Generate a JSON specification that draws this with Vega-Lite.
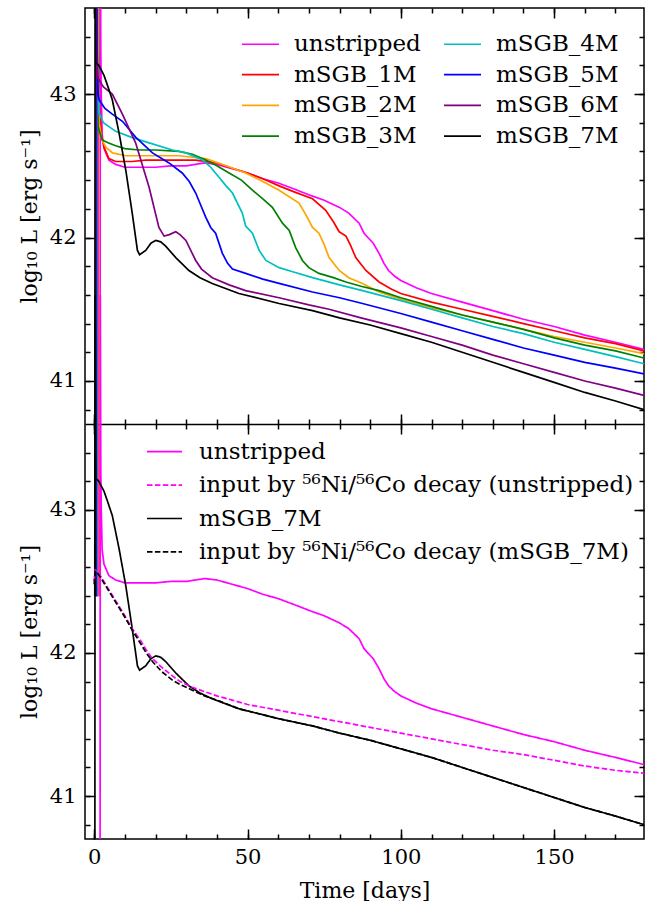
{
  "$schema": "https://vega.github.io/schema/vega-lite/v6.json",
  "padding": {"left": 18, "top": 7, "right": 2, "bottom": 0},
  "width": 559,
  "height": 831,
  "config": {
    "font": "DejaVu Serif",
    "view": {"stroke": "black", "strokeWidth": 1.5},
    "axis": {"domain": false, "grid": false, "tickColor": "black", "tickWidth": 1.5, "labelFontSize": 21, "titleFontSize": 22, "titleFontWeight": "normal", "labelColor": "black", "titleColor": "black", "labelFlush": false, "labelOverlap": false},
    "legend": {"labelFontSize": 23, "labelColor": "black", "labelLimit": 0, "padding": 0}
  },
  "resolve": {"scale": {"y": "independent", "color": "independent", "strokeDash": "independent"}, "axis": {"x": "independent", "y": "independent"}},
  "datasets": {
    "lc": [
      {"model":"unstripped","t":1.9,"L":39.5},{"model":"unstripped","t":2.0,"L":44.5},{"model":"unstripped","t":2.15,"L":43.3},{"model":"unstripped","t":2.3,"L":43.0},{"model":"unstripped","t":2.6,"L":42.72},{"model":"unstripped","t":3.2,"L":42.62},{"model":"unstripped","t":4.8,"L":42.54},{"model":"unstripped","t":7,"L":42.51},{"model":"unstripped","t":10,"L":42.49},{"model":"unstripped","t":15,"L":42.49},{"model":"unstripped","t":20,"L":42.49},{"model":"unstripped","t":25,"L":42.5},{"model":"unstripped","t":30,"L":42.5},{"model":"unstripped","t":33,"L":42.51},{"model":"unstripped","t":36,"L":42.52},{"model":"unstripped","t":40,"L":42.51},{"model":"unstripped","t":45,"L":42.48},{"model":"unstripped","t":50,"L":42.45},{"model":"unstripped","t":55,"L":42.41},{"model":"unstripped","t":60,"L":42.38},{"model":"unstripped","t":65,"L":42.34},{"model":"unstripped","t":71,"L":42.29},{"model":"unstripped","t":75,"L":42.26},{"model":"unstripped","t":80,"L":42.21},{"model":"unstripped","t":83,"L":42.17},{"model":"unstripped","t":86.4,"L":42.1},{"model":"unstripped","t":88,"L":42.03},{"model":"unstripped","t":89.7,"L":41.99},{"model":"unstripped","t":91,"L":41.96},{"model":"unstripped","t":92.9,"L":41.89},{"model":"unstripped","t":94.5,"L":41.82},{"model":"unstripped","t":96,"L":41.77},{"model":"unstripped","t":98,"L":41.73},{"model":"unstripped","t":100,"L":41.7},{"model":"unstripped","t":105,"L":41.65},{"model":"unstripped","t":110,"L":41.61},{"model":"unstripped","t":120,"L":41.55},{"model":"unstripped","t":130,"L":41.49},{"model":"unstripped","t":140,"L":41.43},{"model":"unstripped","t":150,"L":41.38},{"model":"unstripped","t":160,"L":41.32},{"model":"unstripped","t":170,"L":41.27},{"model":"unstripped","t":179.3,"L":41.22},
      {"model":"mSGB_1M","t":1.2,"L":39.5},{"model":"mSGB_1M","t":1.3,"L":44.5},{"model":"mSGB_1M","t":1.5,"L":43.2},{"model":"mSGB_1M","t":1.8,"L":42.85},{"model":"mSGB_1M","t":2.5,"L":42.7},{"model":"mSGB_1M","t":3.2,"L":42.63},{"model":"mSGB_1M","t":4.8,"L":42.55},{"model":"mSGB_1M","t":7,"L":42.53},{"model":"mSGB_1M","t":12.4,"L":42.53},{"model":"mSGB_1M","t":16.8,"L":42.54},{"model":"mSGB_1M","t":25,"L":42.54},{"model":"mSGB_1M","t":33,"L":42.54},{"model":"mSGB_1M","t":40,"L":42.52},{"model":"mSGB_1M","t":44,"L":42.49},{"model":"mSGB_1M","t":50,"L":42.45},{"model":"mSGB_1M","t":55,"L":42.41},{"model":"mSGB_1M","t":60.3,"L":42.36},{"model":"mSGB_1M","t":65,"L":42.32},{"model":"mSGB_1M","t":71.2,"L":42.27},{"model":"mSGB_1M","t":75.5,"L":42.19},{"model":"mSGB_1M","t":78,"L":42.11},{"model":"mSGB_1M","t":79.9,"L":42.04},{"model":"mSGB_1M","t":82.1,"L":42.01},{"model":"mSGB_1M","t":83.5,"L":41.95},{"model":"mSGB_1M","t":85.3,"L":41.86},{"model":"mSGB_1M","t":88.6,"L":41.77},{"model":"mSGB_1M","t":92.9,"L":41.69},{"model":"mSGB_1M","t":97,"L":41.64},{"model":"mSGB_1M","t":100,"L":41.61},{"model":"mSGB_1M","t":110,"L":41.55},{"model":"mSGB_1M","t":120,"L":41.5},{"model":"mSGB_1M","t":130,"L":41.45},{"model":"mSGB_1M","t":140,"L":41.4},{"model":"mSGB_1M","t":150,"L":41.35},{"model":"mSGB_1M","t":160,"L":41.3},{"model":"mSGB_1M","t":170,"L":41.26},{"model":"mSGB_1M","t":179.3,"L":41.21},
      {"model":"mSGB_2M","t":1.0,"L":39.5},{"model":"mSGB_2M","t":1.1,"L":44.5},{"model":"mSGB_2M","t":1.3,"L":43.2},{"model":"mSGB_2M","t":1.6,"L":42.8},{"model":"mSGB_2M","t":2.5,"L":42.68},{"model":"mSGB_2M","t":3.8,"L":42.63},{"model":"mSGB_2M","t":6,"L":42.59},{"model":"mSGB_2M","t":10.3,"L":42.57},{"model":"mSGB_2M","t":17.9,"L":42.57},{"model":"mSGB_2M","t":27.7,"L":42.57},{"model":"mSGB_2M","t":36.4,"L":42.55},{"model":"mSGB_2M","t":43,"L":42.5},{"model":"mSGB_2M","t":49.4,"L":42.45},{"model":"mSGB_2M","t":55,"L":42.39},{"model":"mSGB_2M","t":60.3,"L":42.33},{"model":"mSGB_2M","t":66.8,"L":42.24},{"model":"mSGB_2M","t":69,"L":42.16},{"model":"mSGB_2M","t":71.2,"L":42.07},{"model":"mSGB_2M","t":73.3,"L":42.03},{"model":"mSGB_2M","t":75,"L":41.95},{"model":"mSGB_2M","t":76.6,"L":41.86},{"model":"mSGB_2M","t":79.9,"L":41.77},{"model":"mSGB_2M","t":83,"L":41.72},{"model":"mSGB_2M","t":87.5,"L":41.68},{"model":"mSGB_2M","t":92.9,"L":41.62},{"model":"mSGB_2M","t":100,"L":41.57},{"model":"mSGB_2M","t":110,"L":41.51},{"model":"mSGB_2M","t":120,"L":41.46},{"model":"mSGB_2M","t":130,"L":41.41},{"model":"mSGB_2M","t":140,"L":41.36},{"model":"mSGB_2M","t":150,"L":41.31},{"model":"mSGB_2M","t":160,"L":41.27},{"model":"mSGB_2M","t":170,"L":41.23},{"model":"mSGB_2M","t":179.3,"L":41.19},
      {"model":"mSGB_3M","t":0.8,"L":39.5},{"model":"mSGB_3M","t":0.9,"L":44.5},{"model":"mSGB_3M","t":1.0,"L":43.0},{"model":"mSGB_3M","t":1.3,"L":42.77},{"model":"mSGB_3M","t":2.6,"L":42.68},{"model":"mSGB_3M","t":4.5,"L":42.66},{"model":"mSGB_3M","t":7,"L":42.64},{"model":"mSGB_3M","t":10,"L":42.62},{"model":"mSGB_3M","t":14.6,"L":42.61},{"model":"mSGB_3M","t":20,"L":42.61},{"model":"mSGB_3M","t":27.7,"L":42.6},{"model":"mSGB_3M","t":32,"L":42.58},{"model":"mSGB_3M","t":36.4,"L":42.54},{"model":"mSGB_3M","t":40,"L":42.5},{"model":"mSGB_3M","t":44,"L":42.45},{"model":"mSGB_3M","t":48,"L":42.4},{"model":"mSGB_3M","t":51.6,"L":42.33},{"model":"mSGB_3M","t":55,"L":42.27},{"model":"mSGB_3M","t":58.1,"L":42.21},{"model":"mSGB_3M","t":61.4,"L":42.1},{"model":"mSGB_3M","t":63.6,"L":42.05},{"model":"mSGB_3M","t":65.7,"L":41.93},{"model":"mSGB_3M","t":67.9,"L":41.84},{"model":"mSGB_3M","t":70,"L":41.79},{"model":"mSGB_3M","t":73.3,"L":41.75},{"model":"mSGB_3M","t":78,"L":41.72},{"model":"mSGB_3M","t":82.1,"L":41.69},{"model":"mSGB_3M","t":87,"L":41.66},{"model":"mSGB_3M","t":92.9,"L":41.63},{"model":"mSGB_3M","t":100,"L":41.58},{"model":"mSGB_3M","t":110,"L":41.52},{"model":"mSGB_3M","t":120,"L":41.46},{"model":"mSGB_3M","t":130,"L":41.41},{"model":"mSGB_3M","t":140,"L":41.36},{"model":"mSGB_3M","t":150,"L":41.3},{"model":"mSGB_3M","t":160,"L":41.25},{"model":"mSGB_3M","t":170,"L":41.21},{"model":"mSGB_3M","t":179.3,"L":41.16},
      {"model":"mSGB_4M","t":0.9,"L":39.5},{"model":"mSGB_4M","t":1.0,"L":44.5},{"model":"mSGB_4M","t":1.15,"L":43.2},{"model":"mSGB_4M","t":1.6,"L":42.87},{"model":"mSGB_4M","t":3,"L":42.8},{"model":"mSGB_4M","t":7,"L":42.74},{"model":"mSGB_4M","t":12,"L":42.7},{"model":"mSGB_4M","t":17.9,"L":42.66},{"model":"mSGB_4M","t":25.5,"L":42.61},{"model":"mSGB_4M","t":30,"L":42.59},{"model":"mSGB_4M","t":35.3,"L":42.54},{"model":"mSGB_4M","t":38,"L":42.49},{"model":"mSGB_4M","t":40.7,"L":42.42},{"model":"mSGB_4M","t":43,"L":42.36},{"model":"mSGB_4M","t":45.1,"L":42.31},{"model":"mSGB_4M","t":48.3,"L":42.17},{"model":"mSGB_4M","t":49.4,"L":42.08},{"model":"mSGB_4M","t":51.6,"L":42.03},{"model":"mSGB_4M","t":53.8,"L":41.91},{"model":"mSGB_4M","t":56,"L":41.84},{"model":"mSGB_4M","t":60.3,"L":41.79},{"model":"mSGB_4M","t":65,"L":41.76},{"model":"mSGB_4M","t":71.2,"L":41.72},{"model":"mSGB_4M","t":80,"L":41.67},{"model":"mSGB_4M","t":87.5,"L":41.63},{"model":"mSGB_4M","t":100,"L":41.56},{"model":"mSGB_4M","t":110,"L":41.5},{"model":"mSGB_4M","t":120,"L":41.44},{"model":"mSGB_4M","t":130,"L":41.38},{"model":"mSGB_4M","t":140,"L":41.33},{"model":"mSGB_4M","t":150,"L":41.27},{"model":"mSGB_4M","t":160,"L":41.22},{"model":"mSGB_4M","t":170,"L":41.17},{"model":"mSGB_4M","t":179.3,"L":41.12},
      {"model":"mSGB_5M","t":0.7,"L":39.5},{"model":"mSGB_5M","t":0.8,"L":44.5},{"model":"mSGB_5M","t":0.95,"L":43.3},{"model":"mSGB_5M","t":1.3,"L":43.0},{"model":"mSGB_5M","t":1.6,"L":42.96},{"model":"mSGB_5M","t":3.5,"L":42.9},{"model":"mSGB_5M","t":5.9,"L":42.86},{"model":"mSGB_5M","t":9.2,"L":42.81},{"model":"mSGB_5M","t":13.5,"L":42.7},{"model":"mSGB_5M","t":19,"L":42.59},{"model":"mSGB_5M","t":24.4,"L":42.52},{"model":"mSGB_5M","t":28.7,"L":42.45},{"model":"mSGB_5M","t":31,"L":42.39},{"model":"mSGB_5M","t":33.1,"L":42.31},{"model":"mSGB_5M","t":36.4,"L":42.14},{"model":"mSGB_5M","t":38,"L":42.07},{"model":"mSGB_5M","t":39.6,"L":42.03},{"model":"mSGB_5M","t":41.8,"L":41.89},{"model":"mSGB_5M","t":43.5,"L":41.82},{"model":"mSGB_5M","t":45.1,"L":41.78},{"model":"mSGB_5M","t":49.4,"L":41.75},{"model":"mSGB_5M","t":55,"L":41.71},{"model":"mSGB_5M","t":60.3,"L":41.68},{"model":"mSGB_5M","t":71.2,"L":41.62},{"model":"mSGB_5M","t":80,"L":41.58},{"model":"mSGB_5M","t":87.5,"L":41.54},{"model":"mSGB_5M","t":100,"L":41.47},{"model":"mSGB_5M","t":110,"L":41.41},{"model":"mSGB_5M","t":120,"L":41.35},{"model":"mSGB_5M","t":130,"L":41.29},{"model":"mSGB_5M","t":140,"L":41.23},{"model":"mSGB_5M","t":150,"L":41.18},{"model":"mSGB_5M","t":160,"L":41.13},{"model":"mSGB_5M","t":170,"L":41.09},{"model":"mSGB_5M","t":179.3,"L":41.05},
      {"model":"mSGB_6M","t":0.5,"L":39.5},{"model":"mSGB_6M","t":0.6,"L":44.5},{"model":"mSGB_6M","t":0.75,"L":43.3},{"model":"mSGB_6M","t":1.0,"L":43.12},{"model":"mSGB_6M","t":3,"L":43.05},{"model":"mSGB_6M","t":5.9,"L":43.0},{"model":"mSGB_6M","t":9.2,"L":42.86},{"model":"mSGB_6M","t":13.5,"L":42.66},{"model":"mSGB_6M","t":17.9,"L":42.35},{"model":"mSGB_6M","t":21.1,"L":42.07},{"model":"mSGB_6M","t":22.8,"L":42.01},{"model":"mSGB_6M","t":24.5,"L":42.02},{"model":"mSGB_6M","t":26.6,"L":42.04},{"model":"mSGB_6M","t":28,"L":42.02},{"model":"mSGB_6M","t":29.9,"L":41.98},{"model":"mSGB_6M","t":33.1,"L":41.84},{"model":"mSGB_6M","t":35,"L":41.78},{"model":"mSGB_6M","t":38.5,"L":41.72},{"model":"mSGB_6M","t":44,"L":41.67},{"model":"mSGB_6M","t":49.4,"L":41.63},{"model":"mSGB_6M","t":60.3,"L":41.58},{"model":"mSGB_6M","t":70,"L":41.53},{"model":"mSGB_6M","t":76.6,"L":41.5},{"model":"mSGB_6M","t":87,"L":41.44},{"model":"mSGB_6M","t":100,"L":41.37},{"model":"mSGB_6M","t":110,"L":41.31},{"model":"mSGB_6M","t":120,"L":41.25},{"model":"mSGB_6M","t":130,"L":41.18},{"model":"mSGB_6M","t":140,"L":41.12},{"model":"mSGB_6M","t":150,"L":41.06},{"model":"mSGB_6M","t":160,"L":41.0},{"model":"mSGB_6M","t":170,"L":40.95},{"model":"mSGB_6M","t":179.3,"L":40.9},
      {"model":"mSGB_7M","t":0.2,"L":39.5},{"model":"mSGB_7M","t":0.3,"L":44.5},{"model":"mSGB_7M","t":0.45,"L":43.4},{"model":"mSGB_7M","t":0.5,"L":43.22},{"model":"mSGB_7M","t":1.5,"L":43.2},{"model":"mSGB_7M","t":3.2,"L":43.13},{"model":"mSGB_7M","t":4.5,"L":43.05},{"model":"mSGB_7M","t":5.9,"L":42.96},{"model":"mSGB_7M","t":8.1,"L":42.73},{"model":"mSGB_7M","t":10.3,"L":42.47},{"model":"mSGB_7M","t":12.4,"L":42.17},{"model":"mSGB_7M","t":14.1,"L":41.91},{"model":"mSGB_7M","t":14.8,"L":41.88},{"model":"mSGB_7M","t":16.8,"L":41.91},{"model":"mSGB_7M","t":18.5,"L":41.96},{"model":"mSGB_7M","t":20.1,"L":41.98},{"model":"mSGB_7M","t":21.7,"L":41.97},{"model":"mSGB_7M","t":23.3,"L":41.94},{"model":"mSGB_7M","t":26.6,"L":41.86},{"model":"mSGB_7M","t":30.9,"L":41.77},{"model":"mSGB_7M","t":34.5,"L":41.72},{"model":"mSGB_7M","t":38.5,"L":41.68},{"model":"mSGB_7M","t":47.2,"L":41.61},{"model":"mSGB_7M","t":60.3,"L":41.54},{"model":"mSGB_7M","t":71.2,"L":41.49},{"model":"mSGB_7M","t":80,"L":41.44},{"model":"mSGB_7M","t":90,"L":41.39},{"model":"mSGB_7M","t":100,"L":41.33},{"model":"mSGB_7M","t":110,"L":41.27},{"model":"mSGB_7M","t":120,"L":41.2},{"model":"mSGB_7M","t":130,"L":41.13},{"model":"mSGB_7M","t":140,"L":41.06},{"model":"mSGB_7M","t":150,"L":40.99},{"model":"mSGB_7M","t":160,"L":40.92},{"model":"mSGB_7M","t":170,"L":40.86},{"model":"mSGB_7M","t":179.3,"L":40.8},
      {"model":"input by ⁵⁶Ni/⁵⁶Co decay (unstripped)","t":0,"L":42.5},{"model":"input by ⁵⁶Ni/⁵⁶Co decay (unstripped)","t":0.3,"L":42.58},{"model":"input by ⁵⁶Ni/⁵⁶Co decay (unstripped)","t":1,"L":42.57},{"model":"input by ⁵⁶Ni/⁵⁶Co decay (unstripped)","t":2,"L":42.54},{"model":"input by ⁵⁶Ni/⁵⁶Co decay (unstripped)","t":4,"L":42.47},{"model":"input by ⁵⁶Ni/⁵⁶Co decay (unstripped)","t":6,"L":42.4},{"model":"input by ⁵⁶Ni/⁵⁶Co decay (unstripped)","t":8,"L":42.33},{"model":"input by ⁵⁶Ni/⁵⁶Co decay (unstripped)","t":10,"L":42.26},{"model":"input by ⁵⁶Ni/⁵⁶Co decay (unstripped)","t":12.4,"L":42.17},{"model":"input by ⁵⁶Ni/⁵⁶Co decay (unstripped)","t":15,"L":42.09},{"model":"input by ⁵⁶Ni/⁵⁶Co decay (unstripped)","t":17,"L":42.02},{"model":"input by ⁵⁶Ni/⁵⁶Co decay (unstripped)","t":19,"L":41.96},{"model":"input by ⁵⁶Ni/⁵⁶Co decay (unstripped)","t":22,"L":41.9},{"model":"input by ⁵⁶Ni/⁵⁶Co decay (unstripped)","t":25.5,"L":41.84},{"model":"input by ⁵⁶Ni/⁵⁶Co decay (unstripped)","t":28,"L":41.8},{"model":"input by ⁵⁶Ni/⁵⁶Co decay (unstripped)","t":32,"L":41.76},{"model":"input by ⁵⁶Ni/⁵⁶Co decay (unstripped)","t":36,"L":41.73},{"model":"input by ⁵⁶Ni/⁵⁶Co decay (unstripped)","t":40,"L":41.7},{"model":"input by ⁵⁶Ni/⁵⁶Co decay (unstripped)","t":45,"L":41.67},{"model":"input by ⁵⁶Ni/⁵⁶Co decay (unstripped)","t":50,"L":41.64},{"model":"input by ⁵⁶Ni/⁵⁶Co decay (unstripped)","t":60,"L":41.6},{"model":"input by ⁵⁶Ni/⁵⁶Co decay (unstripped)","t":70,"L":41.56},{"model":"input by ⁵⁶Ni/⁵⁶Co decay (unstripped)","t":80,"L":41.52},{"model":"input by ⁵⁶Ni/⁵⁶Co decay (unstripped)","t":90,"L":41.48},{"model":"input by ⁵⁶Ni/⁵⁶Co decay (unstripped)","t":100,"L":41.44},{"model":"input by ⁵⁶Ni/⁵⁶Co decay (unstripped)","t":110,"L":41.4},{"model":"input by ⁵⁶Ni/⁵⁶Co decay (unstripped)","t":120,"L":41.36},{"model":"input by ⁵⁶Ni/⁵⁶Co decay (unstripped)","t":130,"L":41.32},{"model":"input by ⁵⁶Ni/⁵⁶Co decay (unstripped)","t":140,"L":41.29},{"model":"input by ⁵⁶Ni/⁵⁶Co decay (unstripped)","t":150,"L":41.25},{"model":"input by ⁵⁶Ni/⁵⁶Co decay (unstripped)","t":160,"L":41.21},{"model":"input by ⁵⁶Ni/⁵⁶Co decay (unstripped)","t":170,"L":41.18},{"model":"input by ⁵⁶Ni/⁵⁶Co decay (unstripped)","t":179.3,"L":41.16},
      {"model":"input by ⁵⁶Ni/⁵⁶Co decay (mSGB_7M)","t":0,"L":42.48},{"model":"input by ⁵⁶Ni/⁵⁶Co decay (mSGB_7M)","t":0.3,"L":42.57},{"model":"input by ⁵⁶Ni/⁵⁶Co decay (mSGB_7M)","t":1,"L":42.56},{"model":"input by ⁵⁶Ni/⁵⁶Co decay (mSGB_7M)","t":2,"L":42.53},{"model":"input by ⁵⁶Ni/⁵⁶Co decay (mSGB_7M)","t":4,"L":42.46},{"model":"input by ⁵⁶Ni/⁵⁶Co decay (mSGB_7M)","t":6,"L":42.39},{"model":"input by ⁵⁶Ni/⁵⁶Co decay (mSGB_7M)","t":8,"L":42.32},{"model":"input by ⁵⁶Ni/⁵⁶Co decay (mSGB_7M)","t":10,"L":42.25},{"model":"input by ⁵⁶Ni/⁵⁶Co decay (mSGB_7M)","t":12.4,"L":42.16},{"model":"input by ⁵⁶Ni/⁵⁶Co decay (mSGB_7M)","t":15,"L":42.07},{"model":"input by ⁵⁶Ni/⁵⁶Co decay (mSGB_7M)","t":17,"L":42.0},{"model":"input by ⁵⁶Ni/⁵⁶Co decay (mSGB_7M)","t":19,"L":41.94},{"model":"input by ⁵⁶Ni/⁵⁶Co decay (mSGB_7M)","t":22,"L":41.87},{"model":"input by ⁵⁶Ni/⁵⁶Co decay (mSGB_7M)","t":25.5,"L":41.81},{"model":"input by ⁵⁶Ni/⁵⁶Co decay (mSGB_7M)","t":28,"L":41.78},{"model":"input by ⁵⁶Ni/⁵⁶Co decay (mSGB_7M)","t":32,"L":41.74},{"model":"input by ⁵⁶Ni/⁵⁶Co decay (mSGB_7M)","t":36,"L":41.7},{"model":"input by ⁵⁶Ni/⁵⁶Co decay (mSGB_7M)","t":40,"L":41.67},{"model":"input by ⁵⁶Ni/⁵⁶Co decay (mSGB_7M)","t":47.2,"L":41.61},{"model":"input by ⁵⁶Ni/⁵⁶Co decay (mSGB_7M)","t":60.3,"L":41.54},{"model":"input by ⁵⁶Ni/⁵⁶Co decay (mSGB_7M)","t":71.2,"L":41.49},{"model":"input by ⁵⁶Ni/⁵⁶Co decay (mSGB_7M)","t":80,"L":41.44},{"model":"input by ⁵⁶Ni/⁵⁶Co decay (mSGB_7M)","t":90,"L":41.39},{"model":"input by ⁵⁶Ni/⁵⁶Co decay (mSGB_7M)","t":100,"L":41.33},{"model":"input by ⁵⁶Ni/⁵⁶Co decay (mSGB_7M)","t":110,"L":41.27},{"model":"input by ⁵⁶Ni/⁵⁶Co decay (mSGB_7M)","t":120,"L":41.2},{"model":"input by ⁵⁶Ni/⁵⁶Co decay (mSGB_7M)","t":130,"L":41.13},{"model":"input by ⁵⁶Ni/⁵⁶Co decay (mSGB_7M)","t":140,"L":41.06},{"model":"input by ⁵⁶Ni/⁵⁶Co decay (mSGB_7M)","t":150,"L":40.99},{"model":"input by ⁵⁶Ni/⁵⁶Co decay (mSGB_7M)","t":160,"L":40.92},{"model":"input by ⁵⁶Ni/⁵⁶Co decay (mSGB_7M)","t":170,"L":40.86},{"model":"input by ⁵⁶Ni/⁵⁶Co decay (mSGB_7M)","t":179.3,"L":40.8}
    ]
  },
  "layer": [
    {
      "data": {"name": "lc"},
      "transform": [{"filter": {"field": "model", "oneOf": ["unstripped", "mSGB_1M", "mSGB_2M", "mSGB_3M", "mSGB_4M", "mSGB_5M", "mSGB_6M", "mSGB_7M"]}}],
      "mark": {"type": "line", "clip": true, "strokeWidth": 1.7},
      "encoding": {
        "x": {"field": "t", "type": "quantitative", "scale": {"domain": [-3, 179.3], "nice": false, "zero": false},
              "axis": {"orient": "bottom", "offset": -831, "labels": false, "title": null, "values": [0,10,20,30,40,50,60,70,80,90,100,110,120,130,140,150,160,170], "tickSize": 5}},
        "y": {"field": "L", "type": "quantitative", "scale": {"domain": [40.7, 43.6], "range": [416, 0], "nice": false, "zero": false},
              "axis": {"orient": "left", "title": "log₁₀ L [erg s⁻¹]", "values": [41, 42, 43], "ticks": false, "labelPadding": 9, "titlePadding": 8}},
        "color": {"field": "model", "type": "nominal",
                  "scale": {"domain": ["unstripped", "mSGB_1M", "mSGB_2M", "mSGB_3M", "mSGB_4M", "mSGB_5M", "mSGB_6M", "mSGB_7M"],
                            "range": ["#ff00ff", "#ff0000", "#ffa500", "#008000", "#00bfbf", "#0000ff", "#800080", "#000000"]},
                  "legend": {"orient": "none", "legendX": 157, "legendY": 24.5, "columns": 2, "columnPadding": 19, "rowPadding": 6.7, "symbolType": "M-2.3,0H5.1", "symbolSize": 100, "symbolStrokeWidth": 1.7, "labelOffset": 29, "title": null}}
      }
    },
    {
      "data": {"values": []},
      "mark": "point",
      "encoding": {
        "x": {"field": "t", "type": "quantitative", "scale": {"domain": [-3, 179.3], "nice": false, "zero": false},
              "axis": {"orient": "bottom", "offset": -831, "labels": false, "title": null, "values": [0, 50, 100, 150], "tickSize": 10}},
        "y": {"field": "L", "type": "quantitative", "scale": {"domain": [40.7, 43.6], "range": [416, 0], "nice": false, "zero": false},
              "axis": {"orient": "right", "offset": -559, "labels": false, "title": null, "values": [40.8,41,41.2,41.4,41.6,41.8,42,42.2,42.4,42.6,42.8,43,43.2,43.4], "tickSize": 5}}
      }
    },
    {
      "data": {"values": []},
      "mark": "point",
      "encoding": {
        "x": {"field": "t", "type": "quantitative", "scale": {"domain": [-3, 179.3], "nice": false, "zero": false},
              "axis": {"orient": "top", "offset": -416, "labels": false, "title": null, "values": [0,10,20,30,40,50,60,70,80,90,100,110,120,130,140,150,160,170], "tickSize": 5}},
        "y": {"field": "L", "type": "quantitative", "scale": {"domain": [40.7, 43.6], "range": [416, 0], "nice": false, "zero": false},
              "axis": {"orient": "right", "offset": -559, "labels": false, "title": null, "values": [41, 42, 43], "tickSize": 10}}
      }
    },
    {
      "data": {"values": []},
      "mark": "point",
      "encoding": {
        "x": {"field": "t", "type": "quantitative", "scale": {"domain": [-3, 179.3], "nice": false, "zero": false},
              "axis": {"orient": "top", "offset": -416, "labels": false, "title": null, "values": [0, 50, 100, 150], "tickSize": 10}},
        "y": {"field": "L", "type": "quantitative", "scale": {"domain": [40.7, 43.6], "range": [416, 0], "nice": false, "zero": false},
              "axis": {"orient": "left", "offset": -559, "labels": false, "title": null, "values": [40.8,41,41.2,41.4,41.6,41.8,42,42.2,42.4,42.6,42.8,43,43.2,43.4], "tickSize": 5}}
      }
    },
    {
      "data": {"values": []},
      "mark": "point",
      "encoding": {
        "x": {"field": "t", "type": "quantitative", "scale": {"domain": [-3, 179.3], "nice": false, "zero": false},
              "axis": {"orient": "bottom", "offset": -415, "labels": false, "title": null, "values": [0,10,20,30,40,50,60,70,80,90,100,110,120,130,140,150,160,170], "tickSize": 5, "domain": true, "domainColor": "black", "domainWidth": 1.5}},
        "y": {"field": "L", "type": "quantitative", "scale": {"domain": [40.7, 43.6], "range": [416, 0], "nice": false, "zero": false},
              "axis": {"orient": "left", "offset": -559, "labels": false, "title": null, "values": [41, 42, 43], "tickSize": 10}}
      }
    },
    {
      "data": {"name": "lc"},
      "transform": [{"filter": {"field": "model", "oneOf": ["unstripped", "input by ⁵⁶Ni/⁵⁶Co decay (unstripped)", "mSGB_7M", "input by ⁵⁶Ni/⁵⁶Co decay (mSGB_7M)"]}}],
      "mark": {"type": "line", "clip": true, "strokeWidth": 1.7},
      "encoding": {
        "x": {"field": "t", "type": "quantitative", "scale": {"domain": [-3, 179.3], "nice": false, "zero": false},
              "axis": {"orient": "bottom", "title": "Time [days]", "values": [0, 50, 100, 150], "ticks": false, "labelPadding": 7, "titlePadding": 13}},
        "y": {"field": "L", "type": "quantitative", "scale": {"domain": [40.7, 43.6], "range": [831, 416], "nice": false, "zero": false},
              "axis": {"orient": "left", "title": "log₁₀ L [erg s⁻¹]", "values": [41, 42, 43], "ticks": false, "labelPadding": 9, "titlePadding": 8}},
        "color": {"field": "model", "type": "nominal",
                  "scale": {"domain": ["unstripped", "input by ⁵⁶Ni/⁵⁶Co decay (unstripped)", "mSGB_7M", "input by ⁵⁶Ni/⁵⁶Co decay (mSGB_7M)"],
                            "range": ["#ff00ff", "#ff00ff", "#000000", "#000000"]},
                  "legend": {"orient": "none", "legendX": 62, "legendY": 432.2, "rowPadding": 9.4, "symbolType": "M-2.3,0H4.7", "symbolSize": 100, "symbolStrokeWidth": 1.7, "labelOffset": 29, "title": null}},
        "strokeDash": {"field": "model", "type": "nominal",
                  "scale": {"domain": ["unstripped", "input by ⁵⁶Ni/⁵⁶Co decay (unstripped)", "mSGB_7M", "input by ⁵⁶Ni/⁵⁶Co decay (mSGB_7M)"],
                            "range": [[1, 0], [5.5, 2.4], [1, 0], [5.5, 2.4]]},
                  "legend": {"orient": "none", "legendX": 62, "legendY": 432.2, "rowPadding": 9.4, "symbolType": "M-2.3,0H4.7", "symbolSize": 100, "symbolStrokeWidth": 1.7, "labelOffset": 29, "title": null}}
      }
    },
    {
      "data": {"values": []},
      "mark": "point",
      "encoding": {
        "x": {"field": "t", "type": "quantitative", "scale": {"domain": [-3, 179.3], "nice": false, "zero": false},
              "axis": {"orient": "bottom", "offset": -415, "labels": false, "title": null, "values": [0, 50, 100, 150], "tickSize": 10}},
        "y": {"field": "L", "type": "quantitative", "scale": {"domain": [40.7, 43.6], "range": [831, 416], "nice": false, "zero": false},
              "axis": {"orient": "right", "offset": -559, "labels": false, "title": null, "values": [40.8,41,41.2,41.4,41.6,41.8,42,42.2,42.4,42.6,42.8,43,43.2,43.4], "tickSize": 5}}
      }
    },
    {
      "data": {"values": []},
      "mark": "point",
      "encoding": {
        "x": {"field": "t", "type": "quantitative", "scale": {"domain": [-3, 179.3], "nice": false, "zero": false},
              "axis": {"orient": "top", "offset": -831, "labels": false, "title": null, "values": [0,10,20,30,40,50,60,70,80,90,100,110,120,130,140,150,160,170], "tickSize": 5}},
        "y": {"field": "L", "type": "quantitative", "scale": {"domain": [40.7, 43.6], "range": [831, 416], "nice": false, "zero": false},
              "axis": {"orient": "right", "offset": -559, "labels": false, "title": null, "values": [41, 42, 43], "tickSize": 10}}
      }
    },
    {
      "data": {"values": []},
      "mark": "point",
      "encoding": {
        "x": {"field": "t", "type": "quantitative", "scale": {"domain": [-3, 179.3], "nice": false, "zero": false},
              "axis": {"orient": "top", "offset": -831, "labels": false, "title": null, "values": [0, 50, 100, 150], "tickSize": 10}},
        "y": {"field": "L", "type": "quantitative", "scale": {"domain": [40.7, 43.6], "range": [831, 416], "nice": false, "zero": false},
              "axis": {"orient": "left", "offset": -559, "labels": false, "title": null, "values": [40.8,41,41.2,41.4,41.6,41.8,42,42.2,42.4,42.6,42.8,43,43.2,43.4], "tickSize": 5}}
      }
    },
    {
      "data": {"values": []},
      "mark": "point",
      "encoding": {
        "x": {"field": "t", "type": "quantitative", "scale": {"domain": [-3, 179.3], "nice": false, "zero": false}, "axis": null},
        "y": {"field": "L", "type": "quantitative", "scale": {"domain": [40.7, 43.6], "range": [831, 416], "nice": false, "zero": false},
              "axis": {"orient": "left", "offset": -559, "labels": false, "title": null, "values": [41, 42, 43], "tickSize": 10}}
      }
    }
  ]
}
